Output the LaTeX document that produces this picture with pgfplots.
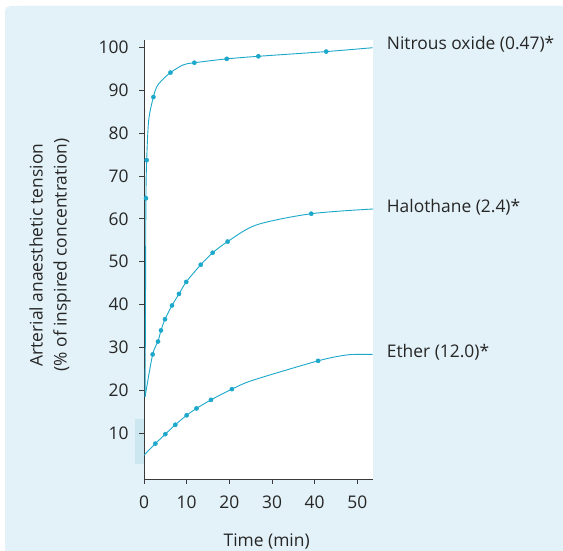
\documentclass[border=0pt]{standalone}
\usepackage{fontspec}
\setmainfont{Open Sans}
\usepackage{pgfplots}
\pgfplotsset{compat=1.18}
\definecolor{bgblue}{HTML}{E3F2F8}
\definecolor{hlblue}{HTML}{CDE7F1}
\definecolor{curve}{HTML}{1CA8CB}
\definecolor{axisgray}{HTML}{3A3A3A}
\definecolor{textgray}{HTML}{262626}
\begin{document}
\begin{tikzpicture}[x=1pt,y=1pt]
\path[use as bounding box] (0,0) rectangle (563,551);
\fill[bgblue, rounded corners=5pt] (5,0) rectangle (570,545);
\fill[bgblue] (5,0) rectangle (563,20) (20,0) rectangle (563,545);
\fill[hlblue] (135,86.7) rectangle (144,132);
\begin{axis}[
  at={(144pt,72pt)}, anchor=south west,
  scale only axis, width=228.7pt, height=439pt,
  xmin=0, xmax=53.6, ymin=-0.65, ymax=101.7,
  axis x line=bottom, axis y line=left,
  axis line style={-, draw=axisgray, line width=0.9pt},
  axis background/.style={fill=white},
  tick align=outside, major tick length=5pt,
  tick style={draw=axisgray, line width=0.9pt},
  xtick={0,10,...,50}, ytick={10,20,...,100},
  /pgf/number format/assume math mode=true,
  tick label style={font=\fontsize{17.4}{20}\selectfont, text=textgray},
  yticklabel style={xshift=-7pt},
  xticklabel style={yshift=-8pt},
  clip=false,
]
\addplot[curve, line width=0.9pt, smooth] coordinates {
(0.25,18.5) (0.35,40) (0.45,64.8) (0.63,73.7) (1.1,83) (2.2,88.4) (3.0,90.8) (4.1,92.2) (6.2,94.1) (9.2,95.9) (11.8,96.4) (19.4,97.3) (26.8,97.9) (42.7,99.0) (53.6,99.9)};
\addplot[curve, only marks, mark=*, mark size=2.1pt] coordinates {
(0.47,64.8) (0.63,73.7) (2.2,88.4) (6.2,94.1) (11.8,96.4) (19.4,97.3) (26.8,97.9) (42.7,99.0)};
\addplot[curve, line width=0.9pt, smooth] coordinates {
(0.25,18.5) (2.03,28.4) (3.28,31.4) (3.98,34.0) (4.92,36.6) (6.56,39.8) (8.2,42.5) (9.9,45.3) (13.3,49.3) (16.1,52.1) (19.6,54.7) (26.4,58.6) (39.2,61.2) (53.7,62.3)};
\addplot[curve, only marks, mark=*, mark size=2.1pt] coordinates {
(2.03,28.4) (3.28,31.4) (3.98,34.0) (4.92,36.6) (6.56,39.8) (8.2,42.5) (9.9,45.3) (13.3,49.3) (16.1,52.1) (19.6,54.7) (39.2,61.2)};
\addplot[curve, line width=0.9pt, smooth] coordinates {
(0,4.9) (2.66,7.6) (5.0,9.8) (7.34,12.0) (10,14.2) (12.3,15.8) (15.7,17.8) (20.6,20.3) (25.6,22.4) (40.8,26.9) (47,28.2) (50,28.4) (53.6,28.4)};
\addplot[curve, only marks, mark=*, mark size=2.1pt] coordinates {
(2.66,7.6) (5.0,9.8) (7.34,12.0) (10,14.2) (12.3,15.8) (15.7,17.8) (20.6,20.3) (40.8,26.9)};
\end{axis}
\begin{scope}[every node/.style={font=\fontsize{17.4}{20}\selectfont, text=textgray, inner sep=0pt}]
\node[anchor=base west] at (386.7,501) {Nitrous oxide (0.47)*};
\node[anchor=base west] at (386.7,338.3) {Halothane (2.4)*};
\node[anchor=base west] at (386.7,193.7) {Ether (12.0)*};
\node[anchor=base] at (266.7,4.3) {Time (min)};
\node[rotate=90, align=center, font=\fontsize{17.4}{24}\selectfont] at (50,296) {Arterial anaesthetic tension\\(\% of inspired concentration)};
\end{scope}
\end{tikzpicture}
\end{document}
